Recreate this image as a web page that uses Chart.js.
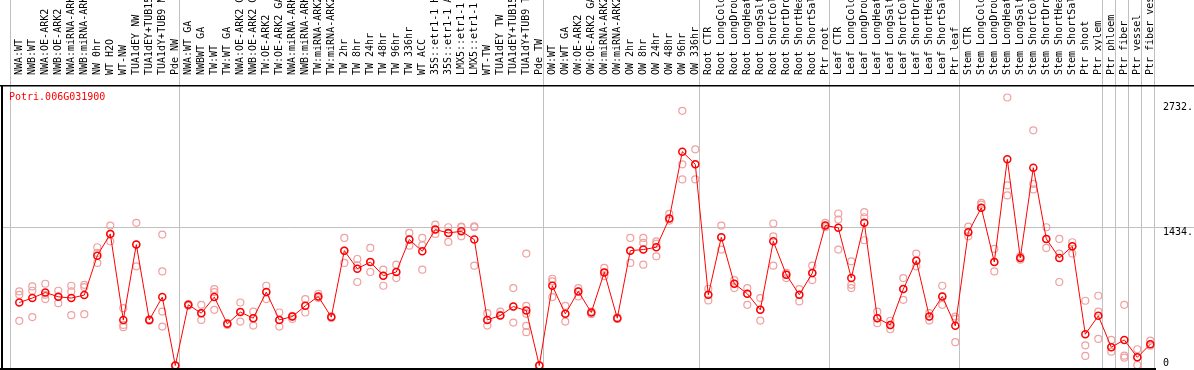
<!DOCTYPE html>
<html>
<head>
<meta charset="utf-8">
<script src="https://cdn.jsdelivr.net/npm/chart.js@4.4.1/dist/chart.umd.min.js"></script>
<style>
  html, body { margin: 0; padding: 0; background: #fff; }
  #wrap { width: 1194px; height: 370px; }
</style>
</head>
<body>
<div id="wrap"><canvas id="myChart" width="1194" height="370"></canvas></div>
<script>
const geneName = 'Potri.006G031900';

const sampleLabels = [
    'NWA:WT', 'NWB:WT', 'NWA:OE-ARK2', 'NWB:OE-ARK2', 'NWA:miRNA-ARK2', 'NWB:miRNA-ARK2',
    'NW 0hr', 'WT H2O', 'WT-NW', 'TUA1dEY NW', 'TUA1dEY+TUB15 NW', 'TUA1dY+TUB9 NW', 'Pde NW',
    'NWA:WT GA', 'NWBWT GA', 'TW:WT', 'TW:WT GA', 'NWA:OE-ARK2 GA', 'NWB:OE-ARK2 GA',
    'TW:OE-ARK2', 'TW:OE-ARK2 GA', 'NWA:miRNA-ARK2 GA', 'NWB:miRNA-ARK2 GA', 'TW:miRNA-ARK2',
    'TW:miRNA-ARK2 GA', 'TW 2hr', 'TW 8hr', 'TW 24hr', 'TW 48hr', 'TW 96hr', 'TW 336hr', 'WT ACC',
    '35S::etr1-1 H2O', '35S::etr1-1 ACC', 'LMX5::etr1-1 H2O', 'LMX5::etr1-1 ACC', 'WT-TW',
    'TUA1dEY TW', 'TUA1dEY+TUB15 TW', 'TUA1dY+TUB9 TW', 'Pde TW',
    'OW:WT', 'OW:WT GA', 'OW:OE-ARK2', 'OW:OE-ARK2 GA', 'OW:miRNA-ARK2', 'OW:miRNA-ARK2 GA',
    'OW 2hr', 'OW 8hr', 'OW 24hr', 'OW 48hr', 'OW 96hr', 'OW 336hr',
    'Root CTR', 'Root LongCold', 'Root LongDrought', 'Root LongHeat', 'Root LongSalt',
    'Root ShortCold', 'Root ShortDrought', 'Root ShortHeat', 'Root ShortSalt', 'Ptr root',
    'Leaf CTR', 'Leaf LongCold', 'Leaf LongDrought', 'Leaf LongHeat', 'Leaf LongSalt',
    'Leaf ShortCold', 'Leaf ShortDrought', 'Leaf ShortHeat', 'Leaf ShortSalt', 'Ptr leaf',
    'Stem CTR', 'Stem LongCold', 'Stem LongDrought', 'Stem LongHeat', 'Stem LongSalt',
    'Stem ShortCold', 'Stem ShortDrought', 'Stem ShortHeat', 'Stem ShortSalt', 'Ptr shoot',
    'Ptr xylem', 'Ptr phloem', 'Ptr fiber', 'Ptr vessel', 'Ptr fiber vessel'
];

// first sample of every experiment block (88 = end)
const groupStarts = [0, 13, 41, 53, 63, 73, 84, 85, 86, 87, 88];

const meanExpr = [
    655, 701, 759, 714, 701, 732, 1142, 1368, 474, 1257, 474, 711, 0,
    631, 544, 711, 433, 555, 492, 763, 474, 509, 620, 718, 503, 1194, 1006, 1076, 933, 972, 1309,
    1187, 1413, 1378, 1395, 1309, 474, 519, 613, 571, 0,
    829, 537, 770, 551, 968, 492, 1194, 1205, 1229, 1528, 2223, 2091,
    735, 1333, 850, 746, 579, 1291, 944, 735, 961, 1455,
    1431, 909, 1483, 492, 422, 794, 1090, 509, 718, 412,
    1385, 1639, 1076, 2143, 1118, 2056, 1316, 1118, 1239, 325, 516, 190, 266, 85, 221
];

const replicateExpr = [
    [770, 735, 464], [822, 777, 503], [850, 735, 690], [777, 716, 648], [829, 770, 523],
    [839, 815, 534], [1229, 1170, 1066], [1455, 1291, 1368], [596, 422, 398], [1483, 1031, 1257],
    [480, 465, 474], [1361, 978, 561, 405], [0, 0, 0],
    [637, 620, 631], [631, 474, 544], [794, 763, 579], [440, 422, 433], [655, 457, 555],
    [561, 415, 492], [829, 690, 763], [551, 405, 474], [516, 484, 509], [690, 551, 620],
    [746, 701, 718], [510, 495, 503], [1326, 1066, 1194], [1107, 1040, 868], [1222, 1076, 972],
    [996, 933, 829], [1048, 972, 909], [1378, 1309, 1246], [1326, 1249, 996], [1465, 1413, 1368],
    [1437, 1378, 1285], [1444, 1437, 1343], [1447, 1437, 1038], [544, 474, 415], [561, 526, 519],
    [805, 613, 446], [1163, 620, 537, 412, 346], [0, 0, 0],
    [902, 874, 711], [620, 537, 457], [805, 770, 718], [561, 551, 533], [1015, 968, 929],
    [500, 492, 484], [1326, 1194, 1066], [1326, 1274, 1048], [1291, 1267, 1135], [1577, 1507, 1528],
    [2647, 2091, 1934], [2247, 2091, 1934],
    [798, 735, 676], [1455, 1333, 1205], [888, 850, 805], [805, 746, 631], [701, 579, 467],
    [1476, 1343, 1038], [963, 944, 909], [794, 735, 666], [1038, 961, 888], [1483, 1455, 1437],
    [1580, 1517, 1205], [1083, 839, 805], [1594, 1541, 1302], [561, 492, 440], [465, 422, 377],
    [909, 794, 683], [1163, 1090, 1031], [544, 509, 467], [829, 718, 631], [509, 484, 242],
    [1444, 1385, 1343], [1691, 1673, 1639], [1212, 1076, 978], [2786, 1872, 1768], [1135, 1118, 1100],
    [2445, 1889, 1830], [1437, 1316, 1222], [1316, 1163, 868], [1281, 1239, 1163], [673, 210, 99],
    [725, 561, 276], [266, 190, 144], [631, 102, 81], [169, 85, 5], [259, 221, 206]
];

const yTickValues = [0, 1434, 2732];

const monoFont = "'DejaVu Sans Mono', 'Liberation Mono', monospace";
Chart.defaults.font.family = monoFont;
Chart.defaults.font.size = 10;

let meanPoints = meanExpr.map((v, i) => ({x: i, y: v}));
let repPoints = [];
replicateExpr.forEach((reps, i) => {
    reps.forEach(v => repPoints.push({x: i, y: v}));
});

// borders, block separators, gene name and the value labels on the right
const frame = {
    id: 'frame',
    beforeDatasetsDraw(chart) {
        const {ctx, chartArea: a, scales: {x}} = chart;
        ctx.save();
        ctx.strokeStyle = '#c0c0c0';
        ctx.lineWidth = 1;
        groupStarts.forEach(i => {
            let px = Math.round(x.getPixelForValue(i - 0.68)) + 0.5;
            ctx.beginPath();
            ctx.moveTo(px, 0);
            ctx.lineTo(px, a.bottom);
            ctx.stroke();
        });
        ctx.restore();
    },
    afterDraw(chart) {
        const {ctx, chartArea: a, scales: {y}} = chart;
        ctx.save();
        ctx.fillStyle = '#000';
        ctx.fillRect(0, 85, chart.width, 1.5);
        ctx.fillRect(1, 85, 2, a.bottom - 85);
        ctx.fillRect(0, a.bottom - 1, a.right, 2);

        ctx.font = '10px ' + monoFont;
        ctx.textBaseline = 'top';
        ctx.textAlign = 'left';
        yTickValues.forEach(v => {
            let py = y.getPixelForValue(v);
            py = Math.min(py, a.bottom - 11);
            ctx.fillText(v === 0 ? '0' : v + '.', 1163, py);
        });

        ctx.fillStyle = '#ff0000';
        ctx.textBaseline = 'middle';
        ctx.fillText(geneName, 9, 97);
        ctx.restore();
    }
};

let ctx = document.getElementById('myChart').getContext('2d');
let myChart = new Chart(ctx, {
    type: 'scatter',
    data: {
        datasets: [{
            label: 'mean',
            data: meanPoints,
            showLine: true,
            borderColor: '#ff0000',
            borderWidth: 1,
            tension: 0,
            pointRadius: 3.5,
            pointBorderWidth: 1.5,
            pointBorderColor: '#ff0000',
            pointBackgroundColor: 'rgba(0,0,0,0)'
        }, {
            label: 'replicates',
            data: repPoints,
            showLine: false,
            pointRadius: 3.5,
            pointBorderWidth: 1.2,
            pointBorderColor: '#f0a0a0',
            pointBackgroundColor: 'rgba(0,0,0,0)'
        }]
    },
    options: {
        responsive: false,
        animation: false,
        devicePixelRatio: 1,
        layout: {autoPadding: false, padding: {left: 1, right: 0, top: 0, bottom: 1}},
        plugins: {legend: {display: false}, tooltip: {enabled: false}},
        scales: {
            x: {
                type: 'linear',
                position: 'top',
                min: -1.408,
                max: 87.438,
                afterBuildTicks: s => { s.ticks = sampleLabels.map((l, i) => ({value: i})); },
                afterFit: s => {
                    s.height = 86;
                    s.paddingLeft = 0;
                    s.paddingRight = 0;
                },
                grid: {display: false},
                border: {display: false},
                ticks: {
                    autoSkip: false,
                    minRotation: 90,
                    maxRotation: 90,
                    padding: 3,
                    labelOffset: 12,
                    color: '#000',
                    callback: v => sampleLabels[v]
                }
            },
            y: {
                type: 'linear',
                position: 'right',
                min: -36.4,
                max: 2905.4,
                afterBuildTicks: s => { s.ticks = yTickValues.map(v => ({value: v})); },
                afterFit: s => {
                    s.width = 38;
                    s.paddingTop = 0;
                    s.paddingBottom = 0;
                },
                border: {display: false},
                grid: {
                    color: c => (c.tick && c.tick.value === 1434) ? '#c0c0c0' : 'rgba(0,0,0,0)',
                    tickLength: 38
                },
                ticks: {display: false}
            }
        }
    },
    plugins: [frame]
});
</script>
</body>
</html>
